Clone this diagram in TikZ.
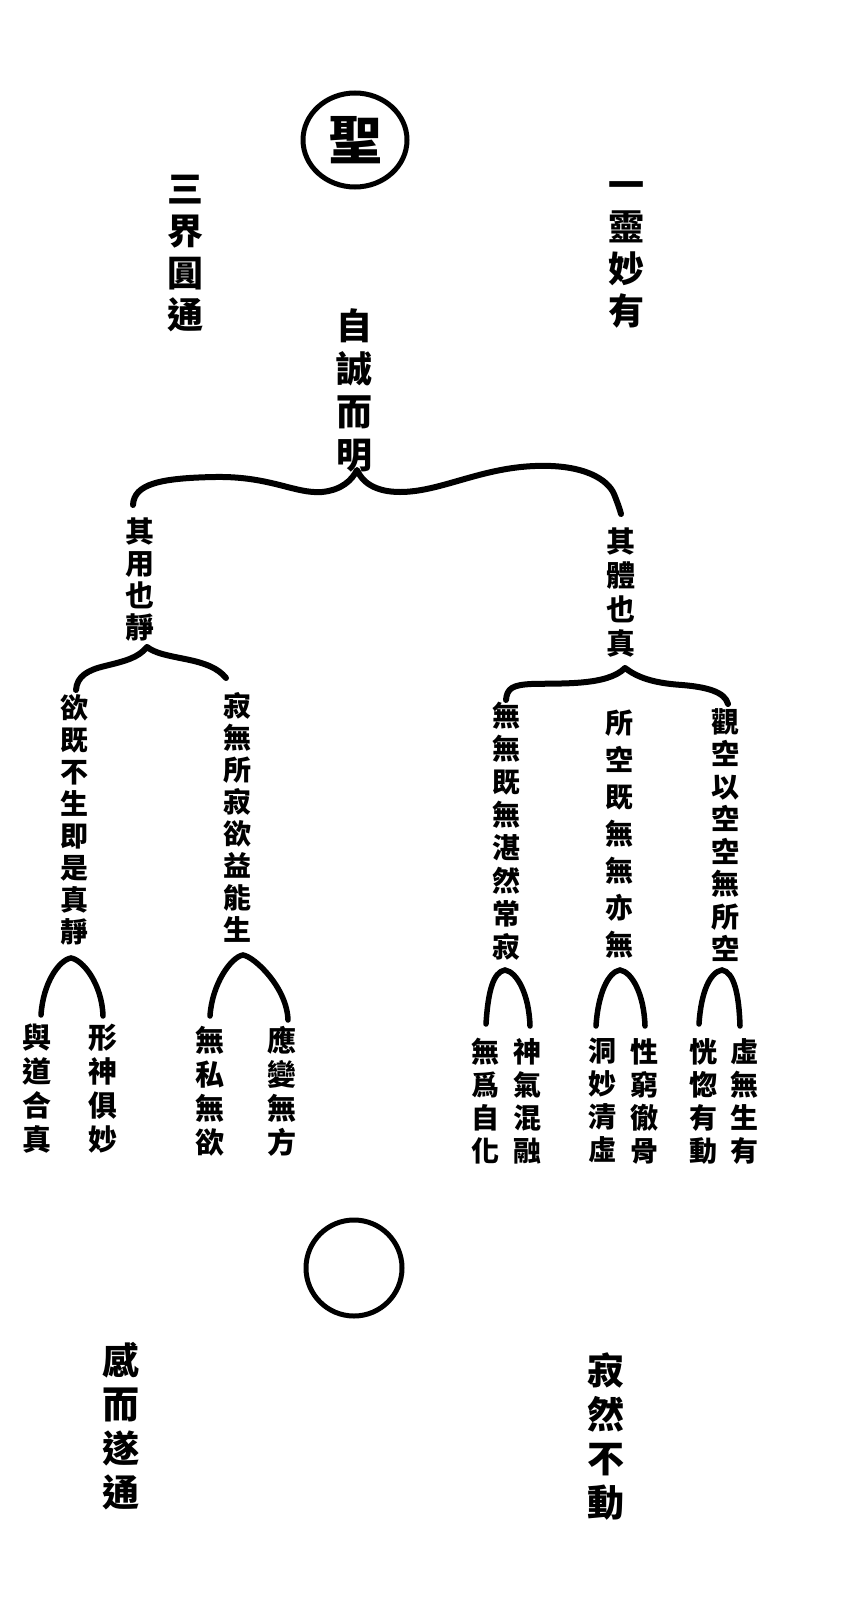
\documentclass[tikz,border=0pt]{standalone}
\usepackage{fontspec}
\newfontfamily\cjk{Noto Sans CJK TC Black}
\newcommand\vsz[2]{\cjk\fontsize{#1}{#2}\selectfont}
\begin{document}
\begin{tikzpicture}[x=1pt,y=-1pt,
  vc/.style={inner sep=0pt, align=center, anchor=north},
  ring/.style={line width=5pt},
  brace/.style={line width=6pt, line cap=round, line join=round},
  arcline/.style={line width=5.5pt, line cap=round}]
\useasboundingbox (0,0) rectangle (848,1603);
\fill[white] (0,0) rectangle (848,1603);
% top circle with 聖
\node[inner sep=0pt, font=\vsz{54}{54}] (sheng) at (355,140) {聖};
\draw[ring] (sheng.center) ellipse [x radius=52pt, y radius=47pt];
% side titles
\node[vc, font=\vsz{36}{42}] (sanjie) at (185,175) {三\\界\\圓\\通};
\node[vc, font=\vsz{36}{42}] (yiling) at (626,181) {一\\靈\\妙\\有};
\node[vc, font=\vsz{36}{43}] (zicheng) at (354,308) {自\\誠\\而\\明};
% main brace
\coordinate (bL) at (133,505);
\coordinate (bC) at (357,470);
\coordinate (bR) at (621,514);
\draw[brace] (bL) .. controls (134,484) and (160,478) .. (215,477)
  .. controls (270,476) and (295,494) .. (322,492)
  .. controls (342,490) and (352,480) .. (bC)
  .. controls (362,482) and (375,492) .. (400,492)
  .. controls (440,492) and (480,468) .. (535,466)
  .. controls (585,464) and (608,480) .. (614,494)
  .. controls (618,504) and (620,510) .. (bR);
\node[vc, font=\vsz{29}{32}] (qiyong) at (140,518) {其\\用\\也\\靜};
\node[vc, font=\vsz{29}{34}] (qiti) at (621,528) {其\\體\\也\\真};
% left sub-brace
\coordinate (sL) at (76,690);
\coordinate (sC) at (147,647);
\coordinate (sR) at (226,678);
\draw[brace] (sL) .. controls (77,676) and (88,670) .. (105,666)
  .. controls (125,661) and (138,658) .. (sC)
  .. controls (155,653) and (165,655) .. (185,659)
  .. controls (205,663) and (218,668) .. (sR);
% right sub-brace
\coordinate (tL) at (506,700);
\coordinate (tC) at (625,668);
\coordinate (tR) at (728,704);
\draw[brace] (tL) .. controls (507,688) and (513,685) .. (531,684)
  .. controls (561,683) and (607,686) .. (tC)
  .. controls (637,677) and (652,683) .. (682,685)
  .. controls (707,687) and (725,692) .. (tR);
% middle columns
\node[vc, font=\vsz{28}{32}] (yuji) at (74,694) {欲\\既\\不\\生\\即\\是\\真\\靜};
\node[vc, font=\vsz{28}{32}] (jiwu) at (237,692) {寂\\無\\所\\寂\\欲\\益\\能\\生};
\node[vc, font=\vsz{28}{33}] (wuwu) at (506,702) {無\\無\\既\\無\\湛\\然\\常\\寂};
\node[vc, font=\vsz{28}{37}] (suokong) at (619,710) {所\\空\\既\\無\\無\\亦\\無};
\node[vc, font=\vsz{28}{32.5}] (guankong) at (725,708) {觀\\空\\以\\空\\空\\無\\所\\空};
% arcs
\coordinate (a1L) at (41,1015); \coordinate (a1P) at (71,958); \coordinate (a1R) at (103,1016);
\coordinate (a2L) at (210,1016); \coordinate (a2P) at (243,955); \coordinate (a2R) at (288,1020);
\coordinate (a3L) at (486,1024); \coordinate (a3P) at (505,970); \coordinate (a3R) at (530,1026);
\coordinate (a4L) at (596,1026); \coordinate (a4P) at (620,970); \coordinate (a4R) at (645,1026);
\coordinate (a5L) at (699,1024); \coordinate (a5P) at (722,970); \coordinate (a5R) at (740,1026);
\foreach \i in {1,...,5}{
  \draw[arcline] (a\i L) .. controls +(2,-32) and +(-12,2) .. (a\i P)
     .. controls +(12,2) and +(-1,-32) .. (a\i R);
}
% bottom columns
\node[vc, font=\vsz{29}{34}] (yudao) at (37,1024) {與\\道\\合\\真};
\node[vc, font=\vsz{29}{34}] (xingshen) at (103,1024) {形\\神\\俱\\妙};
\node[vc, font=\vsz{29}{34}] (wusi) at (210,1026) {無\\私\\無\\欲};
\node[vc, font=\vsz{29}{34}] (yingbian) at (282,1026) {應\\變\\無\\方};
\node[vc, font=\vsz{28}{33}] (wuwei) at (485,1038) {無\\爲\\自\\化};
\node[vc, font=\vsz{28}{33}] (shenqi) at (527,1038) {神\\氣\\混\\融};
\node[vc, font=\vsz{28}{33}] (dongmiao) at (602,1038) {洞\\妙\\清\\虛};
\node[vc, font=\vsz{28}{33}] (xingqiong) at (644,1038) {性\\窮\\徹\\骨};
\node[vc, font=\vsz{28}{33}] (huanghu) at (703,1038) {恍\\惚\\有\\動};
\node[vc, font=\vsz{28}{33}] (xuwu) at (744,1038) {虛\\無\\生\\有};
% bottom circle
\node[ring, draw, circle, minimum size=96pt, inner sep=0pt] (wuji) at (354,1268) {};
\node[vc, font=\vsz{37}{44}] (ganer) at (121,1342) {感\\而\\遂\\通};
\node[vc, font=\vsz{37}{44}] (jiran) at (606,1352) {寂\\然\\不\\動};
\end{tikzpicture}
\end{document}
